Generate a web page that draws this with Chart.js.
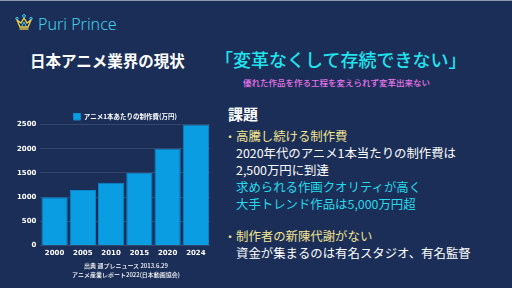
<!DOCTYPE html>
<html lang="ja">
<head>
<meta charset="utf-8">
<script src="https://cdn.jsdelivr.net/npm/chart.js@4"></script>
<style>
  html, body { margin: 0; padding: 0; }
  body { width: 512px; height: 288px; overflow: hidden; position: relative;
         background: #1b2e58; font-family: "Noto Sans CJK JP", "Noto Sans", sans-serif; }
  .abs { position: absolute; white-space: nowrap; }
  #topline { left: 0; top: 0; width: 512px; height: 1px; background: #8e98ad; }
  #logo { left: 38px; top: 13px; font-family: "Noto Sans", sans-serif; font-size: 16px;
          font-weight: 300; color: #3fd0ea; }
  #crown { left: 15px; top: 14px; }
  #title { left: 30px; top: 49px; font-size: 15.5px; font-weight: 700; color: #fff; }
  #slogan { left: 215px; top: 46px; font-size: 18px; font-weight: 500; color: #20e4ee; }
  #sub { left: 243px; top: 76px; font-size: 8.5px; font-weight: 500; color: #e874ea; }
  #kadai { left: 228px; top: 103px; font-size: 15px; font-weight: 700; color: #fff; }
  .ln { font-size: 12.4px; line-height: 17px; left: 236px; }
  .y { color: #f2e48f; }
  .w { color: #fff; }
  .c { color: #26dbe9; }
  .dot { left: 224px; font-size: 12px; color: #f2e48f; }
  #src { left: 0; width: 252px; top: 261px; text-align: center; font-size: 6px; line-height: 9px;
         color: #fff; font-weight: 500; }
  #wrap { position: absolute; left: 0; top: 104px; width: 220px; height: 158px; }
</style>
</head>
<body>
<div class="abs" id="topline"></div>
<svg class="abs" id="crown" width="18" height="17" viewBox="0 0 18 17">
  <path d="M2 6 L5 13 L13 13 L16 6 L12 9 L9 4 L6 9 Z" fill="none" stroke="#f0d24a" stroke-width="1.3"/>
  <line x1="4.5" y1="15" x2="13.5" y2="15" stroke="#f0d24a" stroke-width="1.3"/>
  <circle cx="9" cy="2" r="1.4" fill="none" stroke="#3fd0ea" stroke-width="1"/>
  <circle cx="2" cy="4.5" r="1.2" fill="none" stroke="#3fd0ea" stroke-width="1"/>
  <circle cx="16" cy="4.5" r="1.2" fill="none" stroke="#3fd0ea" stroke-width="1"/>
  <path d="M7 12 L9 8 L11 12" fill="none" stroke="#3fd0ea" stroke-width="1"/>
</svg>
<div class="abs" id="logo">Puri Prince</div>
<div class="abs" id="title">日本アニメ業界の現状</div>
<div class="abs" id="slogan">「変革なくして存続できない」</div>
<div class="abs" id="sub">優れた作品を作る工程を変えられず変革出来ない</div>
<div class="abs" id="kadai">課題</div>

<div class="abs dot" style="top:128px">・</div>
<div class="abs ln y" style="top:128px">高騰し続ける制作費</div>
<div class="abs ln w" style="top:145px">2020年代のアニメ1本当たりの制作費は</div>
<div class="abs ln w" style="top:162px">2,500万円に到達</div>
<div class="abs ln c" style="top:179px">求められる作画クオリティが高く</div>
<div class="abs ln c" style="top:196px">大手トレンド作品は5,000万円超</div>
<div class="abs dot" style="top:228px">・</div>
<div class="abs ln y" style="top:228px">制作者の新陳代謝がない</div>
<div class="abs ln w" style="top:245px">資金が集まるのは有名スタジオ、有名監督</div>

<div id="wrap"><canvas id="chart"></canvas></div>
<div class="abs" id="src">出典 週プレニュース 2013.6.29<br>アニメ産業レポート2022(日本動画協会)</div>

<script>
// Production cost per anime title (unit: 万円)
const YEARS = ["2000", "2005", "2010", "2015", "2020", "2024"];
const COST = [1000, 1150, 1300, 1500, 2000, 2500];
const SERIES_LABEL = "アニメ1本あたりの制作費(万円)";

const tickFont = { family: "'DejaVu Sans', sans-serif", size: 7, weight: "bold" };

// Legend reserves a fixed 10px below itself; trim it so the plot sits closer,
// and centre it over the plot area instead of the whole canvas.
const tightLegend = {
  id: "tightLegend",
  beforeLayout(chart) {
    const lg = chart.legend;
    if (!lg || lg._tight) return;
    const fit = lg.fit;
    lg.fit = function () { fit.call(this); this.height -= 5.5; };
    lg._tight = true;
  },
  afterLayout(chart) {
    const lg = chart.legend;
    if (!lg) return;
    const shift = (chart.chartArea.left + chart.chartArea.right) / 2 - (lg.left + lg.right) / 2;
    lg.left += shift;
    lg.right += shift;
  },
};

new Chart(document.getElementById("chart"), {
  type: "bar",
  data: {
    labels: YEARS,
    datasets: [{
      label: SERIES_LABEL, data: COST,
      backgroundColor: "#0b9de2", borderColor: "#0a84c8", borderWidth: 1,
      categoryPercentage: 0.93, barPercentage: 1,
    }],
  },
  plugins: [tightLegend],
  options: {
    responsive: true, maintainAspectRatio: false, animation: false,
    layout: { padding: { left: 13, right: 10, top: 9, bottom: 2 } },
    plugins: {
      legend: {
        labels: { color: "#fff", boxWidth: 7, boxHeight: 7, padding: 0,
                  font: { family: "'Noto Sans CJK JP', sans-serif", size: 6.5, weight: "bold", lineHeight: 1 } },
      },
      tooltip: { enabled: false },
    },
    scales: {
      x: { grid: { display: false, drawTicks: false }, border: { display: false },
           ticks: { color: "#fff", font: tickFont, padding: 3 } },
      y: { min: 0, max: 2500, border: { display: false },
           grid: { color: "rgba(255,255,255,0.12)", drawTicks: false },
           ticks: { stepSize: 500, color: "#fff", font: tickFont, padding: 4,
                    callback: (v) => String(v) } },
    },
  },
});
</script>
</body>
</html>
